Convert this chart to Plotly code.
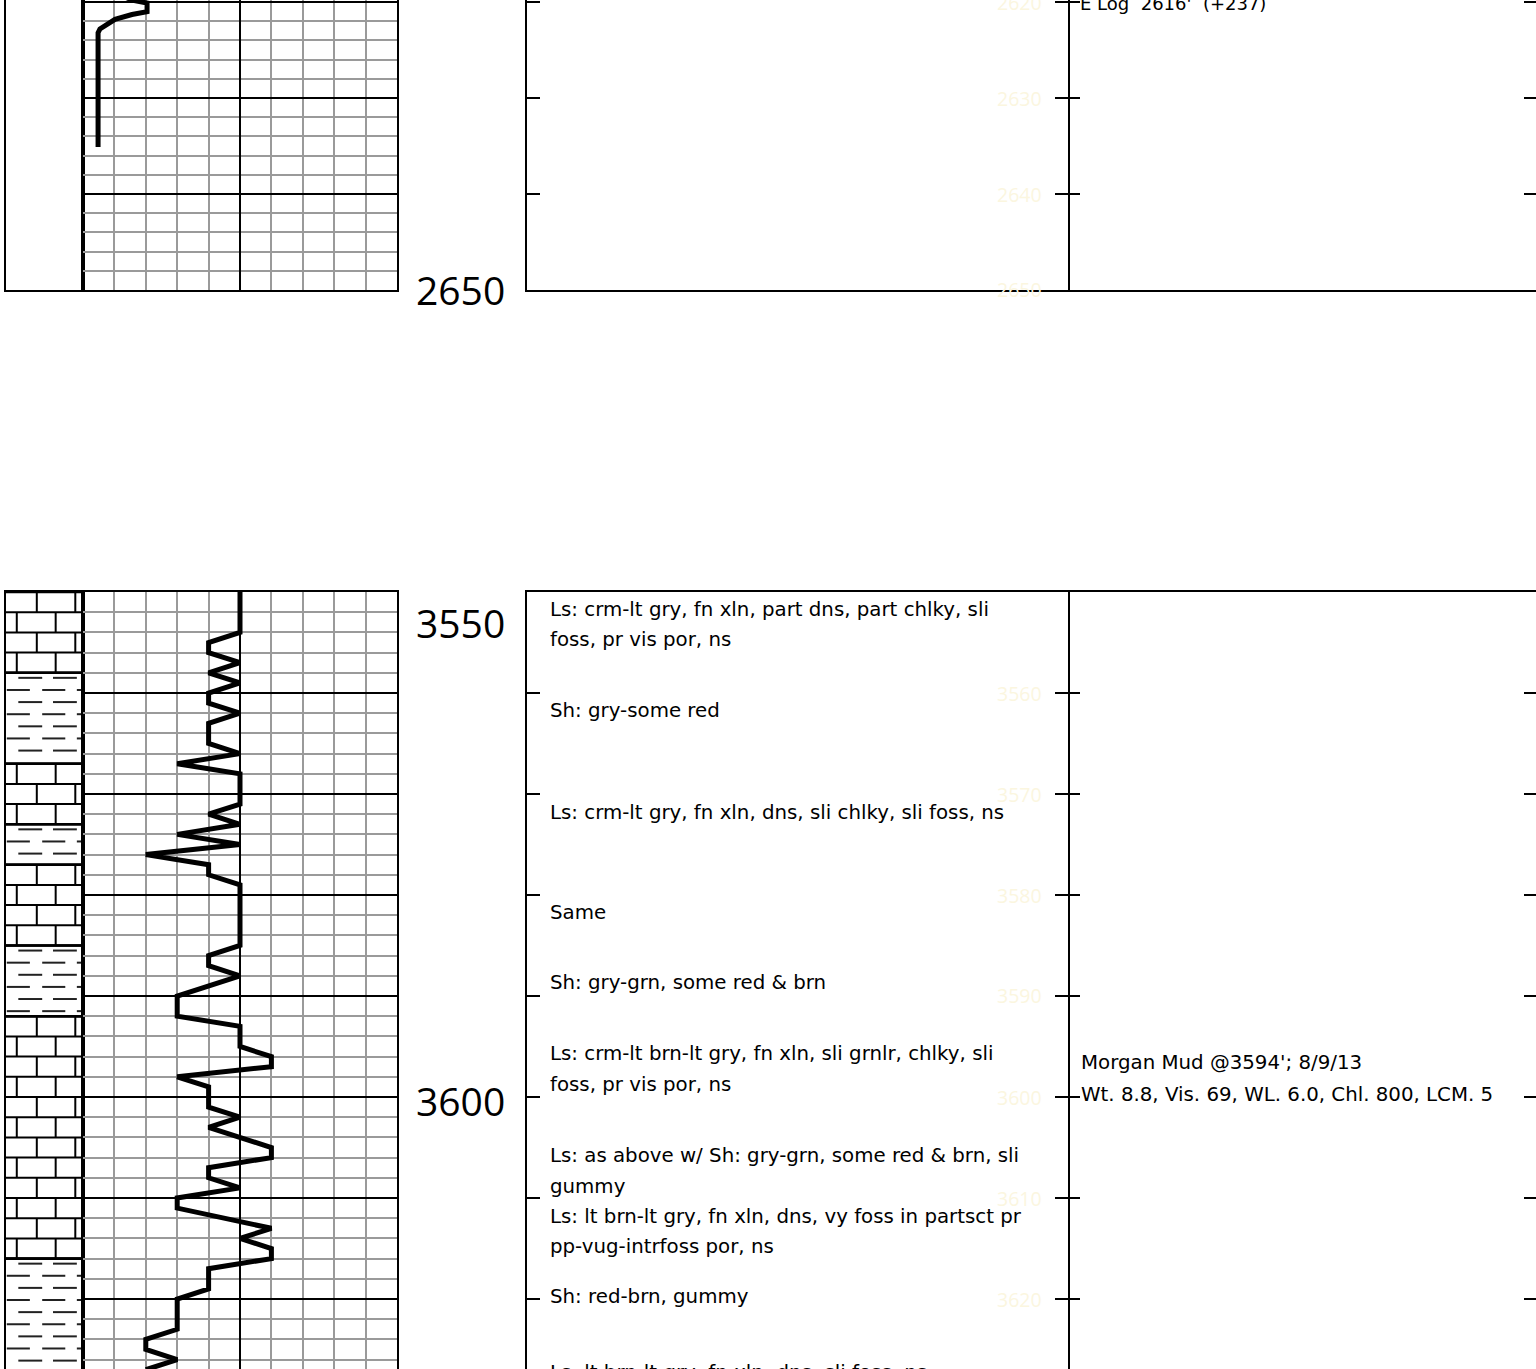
import plotly.graph_objects as go

W, H = 1536, 1369

# ---------------- data ----------------
# drilling-time curve, chart divisions 0-10
top_depth = [2619.0, 2619.8, 2620.1, 2621.0, 2621.3, 2621.8, 2622.8, 2623.2, 2635.1]
top_value = [1.0, 1.56, 2.04, 2.04, 1.56, 1.02, 0.54, 0.48, 0.48]

bot_depth = [3550, 3554, 3555, 3556, 3557, 3558, 3559, 3560, 3561, 3562, 3563, 3565,
             3566, 3567, 3568, 3571, 3572, 3573, 3574, 3575, 3576, 3577, 3578, 3579,
             3585, 3586, 3587, 3588, 3590, 3592, 3593, 3595, 3596, 3597, 3598, 3599,
             3601, 3602, 3603, 3605, 3606, 3607, 3608, 3609, 3610, 3611, 3613, 3614,
             3615, 3616, 3617, 3619, 3620, 3623, 3624, 3625, 3626, 3627]
bot_value = [5, 5, 4, 4, 5, 4, 5, 4, 4, 5, 4, 4,
             5, 3, 5, 5, 4, 5, 3, 5, 2, 4, 4, 5,
             5, 4, 4, 5, 3, 3, 5, 5, 6, 6, 3, 4,
             4, 5, 4, 6, 6, 4, 4, 5, 3, 3, 6, 5,
             6, 6, 4, 4, 3, 3, 2, 2, 3, 2]

# lithology intervals (bottom panel)
lith_top = [3550, 3558, 3567, 3573, 3577, 3585, 3592, 3616]
lith_base = [3558, 3567, 3573, 3577, 3585, 3592, 3616, 3632]
lith_type = ["Ls", "Sh", "Ls", "Sh", "Ls", "Sh", "Ls", "Sh"]
brick_phase = [0, 0, 1, 0, 0, 0, 0, 0]

# depth labels
top_labels = [2650]
bot_labels = [3550, 3600]

# sample descriptions (one entry per printed line)
desc_depth = [3551.7, 3554.75, 3561.7, 3571.8, 3581.7, 3588.7, 3595.65, 3598.8,
              3605.75, 3608.9, 3611.8, 3614.85, 3619.8, 3627.3]
desc_text = [
    "Ls: crm-lt gry, fn xln, part dns, part chlky, sli",
    "foss, pr vis por, ns",
    "Sh: gry-some red",
    "Ls: crm-lt gry, fn xln, dns, sli chlky, sli foss, ns",
    "Same",
    "Sh: gry-grn, some red & brn",
    "Ls: crm-lt brn-lt gry, fn xln, sli grnlr, chlky, sli",
    "foss, pr vis por, ns",
    "Ls: as above w/ Sh: gry-grn, some red & brn, sli",
    "gummy",
    "Ls: lt brn-lt gry, fn xln, dns, vy foss in partsct pr",
    "pp-vug-intrfoss por, ns",
    "Sh: red-brn, gummy",
    "Ls: lt brn-lt gry, fn xln, dns, sli foss, ns",
]

remark_depth = [3596.6, 3599.8]
remark_text = ["Morgan Mud @3594'; 8/9/13",
               "Wt. 8.8, Vis. 69, WL. 6.0, Chl. 800, LCM. 5"]

top_remark_depth = [2620.15]
top_remark_text = ["E Log  2616'  (+237)"]

# ---------------- geometry ----------------
TOP_RANGE = [2650, 2650 - 290 / 9.6]
BOT_RANGE = [3550 + (H - 592) / 10.1, 3550]
TOP_DOM = [1 - 290 / H, 1]
BOT_DOM = [0, 1 - 592 / H]
COLS = {"litho": (6, 83), "curve": (83, 397), "desc": (527, 1068), "rem": (1068, W)}

FONT = "DejaVu Sans"
BLACK = "#000000"
GRAY = "#9a9a9a"
FAINT = "#fbf6df"
TXT = 19.8

fig = go.Figure()
layout = dict(width=W, height=H, margin=dict(l=0, r=0, t=0, b=0),
              paper_bgcolor="white", plot_bgcolor="white", showlegend=False)

panels = [("top", TOP_DOM, TOP_RANGE, "bottom"), ("bot", BOT_DOM, BOT_RANGE, "top")]
axis_ids = {}
n = 0
for pname, ydom, yrng, xside in panels:
    for cname, (c0, c1) in COLS.items():
        n += 1
        xs = "" if n == 1 else str(n)
        axis_ids[(pname, cname)] = ("x" + xs, "y" + xs)
        xa = dict(domain=[c0 / W, min(c1 / W, 1.0)], range=[0, 10] if cname == "curve" else [0, 1],
                  anchor="y" + xs, side=xside, showline=True, linecolor=BLACK, linewidth=2,
                  showticklabels=False, ticks="", zeroline=False, showgrid=False, fixedrange=True)
        ya = dict(domain=ydom, range=yrng, anchor="x" + xs, showline=True, linecolor=BLACK,
                  linewidth=2, mirror=True, showticklabels=False, ticks="", zeroline=False,
                  showgrid=False, fixedrange=True)
        if cname == "curve":
            xa.update(showgrid=True, tick0=0, dtick=5, gridcolor=BLACK, gridwidth=2,
                      minor=dict(showgrid=True, tick0=0, dtick=1, gridcolor=GRAY, gridwidth=2))
            ya.update(showgrid=True, tick0=0, dtick=10, gridcolor=BLACK, gridwidth=2,
                      minor=dict(showgrid=True, tick0=0, dtick=2, gridcolor=GRAY, gridwidth=2))
        if cname in ("desc", "rem"):
            ya.update(ticks="inside", ticklen=13 if cname == "desc" else 12, tickwidth=2,
                      tickcolor=BLACK, tick0=0, dtick=10, mirror="ticks")
        if cname == "rem":
            # left border comes from the description track; no right border
            ya.update(showline=False)
        layout["xaxis" + xs] = xa
        layout["yaxis" + xs] = ya
        fig.add_trace(go.Scatter(x=[None], y=[None], xaxis="x" + xs, yaxis="y" + xs,
                                 hoverinfo="skip", showlegend=False))

# ---------------- curves ----------------
xa, ya = axis_ids[("top", "curve")]
fig.add_trace(go.Scatter(x=top_value, y=top_depth, mode="lines", xaxis=xa, yaxis=ya,
                         line=dict(color=BLACK, width=5), hoverinfo="skip"))
xa, ya = axis_ids[("bot", "curve")]
fig.add_trace(go.Scatter(x=bot_value, y=bot_depth, mode="lines", xaxis=xa, yaxis=ya,
                         line=dict(color=BLACK, width=5), hoverinfo="skip"))

# ---------------- lithology patterns ----------------
bx, by, sx, sy, ex, ey = [], [], [], [], [], []
for top, base, typ, ph in zip(lith_top, lith_base, lith_type, brick_phase):
    ex += [0, 1, None, 0, 1, None]
    ey += [top, top, None, base, base, None]
    if typ == "Ls":
        d, k = top, 0
        while d < base - 1e-6:
            nxt = min(d + 2, base)
            bx += [0, 1, None]
            by += [d, d, None]
            verts = [0.40, 0.90] if (k + ph) % 2 == 0 else [0.14, 0.645]
            for v in verts:
                bx += [v, v, None]
                by += [d, nxt, None]
            d, k = nxt, k + 1
    else:
        d, k = top + 0.5, 0
        while d < base - 0.3:
            segs = [(0.16, 0.47), (0.61, 0.92)] if k % 2 == 0 else [(0.01, 0.31), (0.47, 0.77), (0.92, 0.99)]
            for a, b in segs:
                sx += [a, b, None]
                sy += [d, d, None]
            d, k = d + 1.2, k + 1

xa, ya = axis_ids[("bot", "litho")]
fig.add_trace(go.Scatter(x=bx, y=by, mode="lines", xaxis=xa, yaxis=ya,
                         line=dict(color=BLACK, width=2), hoverinfo="skip"))
fig.add_trace(go.Scatter(x=sx, y=sy, mode="lines", xaxis=xa, yaxis=ya,
                         line=dict(color="#222222", width=2), hoverinfo="skip"))
fig.add_trace(go.Scatter(x=ex, y=ey, mode="lines", xaxis=xa, yaxis=ya,
                         line=dict(color=BLACK, width=2.6), hoverinfo="skip"))

# ---------------- annotations ----------------
ann = []


def depth_to_paper(depth, rng, dom):
    frac = (depth - rng[0]) / (rng[1] - rng[0])
    return dom[0] + frac * (dom[1] - dom[0])


for lab in top_labels:
    ann.append(dict(x=460 / W, xref="paper", y=depth_to_paper(lab, TOP_RANGE, TOP_DOM), yref="paper",
                    text=str(lab), showarrow=False, xanchor="center", yanchor="middle",
                    font=dict(family="Open Sans", size=39, color=BLACK)))
for lab in bot_labels:
    shift = -30 if lab == BOT_RANGE[1] else -3
    ann.append(dict(x=460 / W, xref="paper", y=depth_to_paper(lab, BOT_RANGE, BOT_DOM), yref="paper",
                    yshift=shift, text=str(lab), showarrow=False, xanchor="center", yanchor="middle",
                    font=dict(family="Open Sans", size=39, color=BLACK)))

xa, ya = axis_ids[("bot", "desc")]
for d, t in zip(desc_depth, desc_text):
    ann.append(dict(x=(548 - 527) / (1068 - 527), xref=xa,
                    y=depth_to_paper(d, BOT_RANGE, BOT_DOM), yref="paper",
                    text=t, showarrow=False, xanchor="left", yanchor="middle",
                    font=dict(family=FONT, size=TXT, color=BLACK)))

xa, ya = axis_ids[("bot", "rem")]
for d, t in zip(remark_depth, remark_text):
    ann.append(dict(x=(1079 - 1068) / (W - 1068), xref=xa, y=d, yref=ya,
                    text=t, showarrow=False, xanchor="left", yanchor="middle",
                    font=dict(family=FONT, size=TXT, color=BLACK)))

xa, ya = axis_ids[("top", "rem")]
for d, t in zip(top_remark_depth, top_remark_text):
    ann.append(dict(x=(1078 - 1068) / (W - 1068), xref=xa, y=d, yref=ya,
                    text=t, showarrow=False, xanchor="left", yanchor="middle",
                    font=dict(family="DejaVu Sans", size=18, color=BLACK)))

# faint depth marks in the description track
for pname, rng, dom in [("top", TOP_RANGE, TOP_DOM), ("bot", BOT_RANGE, BOT_DOM)]:
    lo, hi = min(rng), max(rng)
    d = int(lo // 10 + 1) * 10
    while d <= hi:
        ann.append(dict(x=1019 / W, xref="paper", y=depth_to_paper(d, rng, dom), yref="paper",
                        text=str(d), showarrow=False, xanchor="center", yanchor="middle",
                        font=dict(family="Open Sans", size=19.5, color=FAINT)))
        d += 10

layout["annotations"] = ann
fig.update_layout(**layout)
fig.write_html("out.html", config={"displayModeBar": False},
               post_script="document.body.style.margin='0px';document.body.style.overflow='hidden';")
